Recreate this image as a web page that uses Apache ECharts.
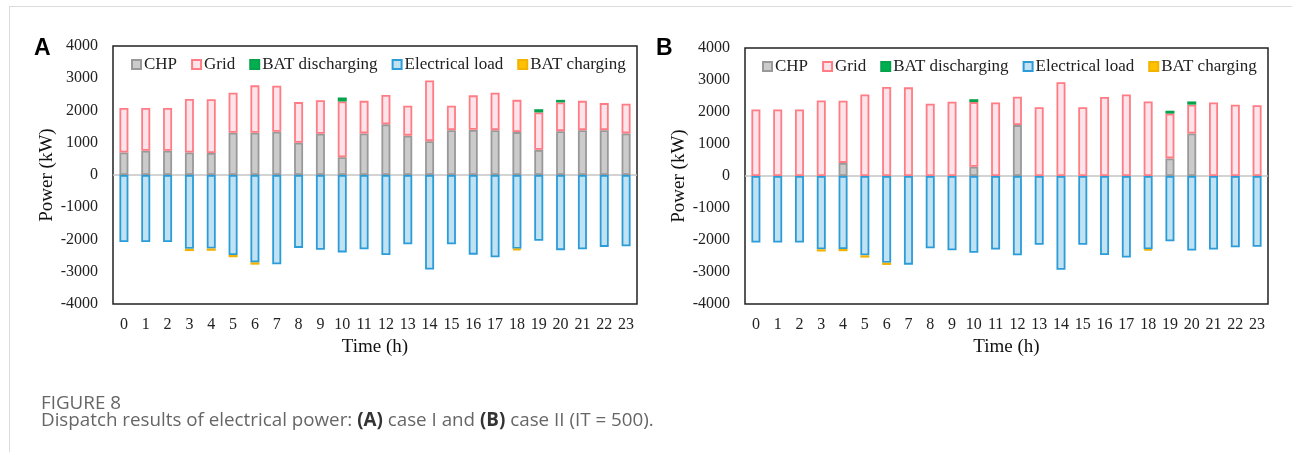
<!DOCTYPE html>
<html lang="en">
<head>
    <meta charset="UTF-8">
    <title>Figure 8</title>
    <script src="https://cdn.jsdelivr.net/npm/echarts@6/dist/echarts.min.js"></script>
    <style>
        body { margin: 0; background: #fff; }
        #wrap { position: relative; width: 1292px; height: 452px; overflow: hidden; }
        #card { position: absolute; left: 9px; top: 6px; width: 1300px; height: 460px;
                border-left: 1px solid #dcdcdc; border-top: 1px solid #dcdcdc; }
        #chart { position: absolute; left: 0; top: 0; width: 1292px; height: 452px; }
        .tag { position: absolute; font: bold 23px "Liberation Sans", Arial, sans-serif; color: #000; }
        .cap { position: absolute; left: 41px; font: 400 18.8px/20px "Open Sans", sans-serif; color: #666; white-space: nowrap; }
        .cap b { color: #333; font-weight: 700; }
    </style>
    <script>
        // hours 0..23
        var hours = ['0', '1', '2', '3', '4', '5', '6', '7', '8', '9', '10', '11',
                     '12', '13', '14', '15', '16', '17', '18', '19', '20', '21', '22', '23'];

        // case I (A)
        var chpA  = [700, 750, 750, 700, 680, 1310, 1310, 1340, 1000, 1280, 550, 1290,
                     1570, 1220, 1050, 1390, 1400, 1390, 1330, 780, 1360, 1390, 1390, 1290];
        var gridA = [1380, 1330, 1330, 1660, 1670, 1240, 1470, 1430, 1260, 1040, 1730, 1010,
                     910, 930, 1880, 760, 1070, 1160, 1000, 1160, 890, 910, 840, 920];
        var disA  = [0, 0, 0, 0, 0, 0, 0, 0, 0, 0, 120, 0,
                     0, 0, 0, 0, 0, 0, 0, 100, 80, 0, 0, 0];
        var chgA  = [0, 0, 0, -70, -70, -70, -70, 0, 0, 0, 0, 0,
                     0, 0, 0, 0, 0, 0, -40, 0, 0, 0, 0, 0];

        // case II (B)
        var chpB  = [0, 0, 0, 0, 410, 0, 0, 0, 0, 0, 290, 0,
                     1590, 0, 0, 0, 0, 0, 0, 550, 1330, 0, 0, 0];
        var gridB = [2080, 2080, 2080, 2360, 1940, 2550, 2780, 2770, 2260, 2320, 2020, 2300,
                     890, 2150, 2930, 2150, 2470, 2550, 2330, 1400, 900, 2300, 2230, 2210];
        var disB  = [0, 0, 0, 0, 0, 0, 0, 0, 0, 0, 90, 0,
                     0, 0, 0, 0, 0, 0, 0, 90, 100, 0, 0, 0];
        var chgB  = [0, 0, 0, -70, -70, -70, -70, 0, 0, 0, 0, 0,
                     0, 0, 0, 0, 0, 0, -40, 0, 0, 0, 0, 0];

        // electrical load, same in both cases
        var load  = [-2080, -2080, -2080, -2290, -2280, -2480, -2710, -2770, -2260, -2320, -2400, -2300,
                     -2480, -2150, -2930, -2150, -2470, -2550, -2290, -2040, -2330, -2300, -2230, -2210];

        var serif = '"Liberation Serif", "Times New Roman", serif';

        var styles = {
            'CHP':            { color: '#cbcbcb', borderColor: '#999999' },
            'Grid':           { color: '#fde4ea', borderColor: '#ff7c84' },
            'BAT discharging':{ color: '#00b050', borderColor: '#06a34c' },
            'Electrical load':{ color: '#c0e2f2', borderColor: '#2b9cd8' },
            'BAT charging':   { color: '#ffc000', borderColor: '#f2b200' }
        };
        var names = ['CHP', 'Grid', 'BAT discharging', 'Electrical load', 'BAT charging'];

        function clean(arr) {
            return arr.map(function (v) { return v === 0 ? '-' : v; });
        }

        function makeSeries(idx, lists) {
            return names.map(function (n, i) {
                var s = {
                    name: n,
                    type: 'bar',
                    stack: 'p' + idx,
                    xAxisIndex: idx,
                    yAxisIndex: idx,
                    barWidth: 9,
                    data: clean(lists[i]),
                    itemStyle: {
                        color: styles[n].color,
                        borderColor: styles[n].borderColor,
                        borderWidth: 1.8
                    },
                    z: 3
                };
                if (i === 0) {
                    s.markLine = {
                        silent: true,
                        symbol: 'none',
                        label: { show: false },
                        lineStyle: { color: '#c4c4c4', width: 1.5, type: 'solid' },
                        data: [{ yAxis: 0 }],
                        z: 1
                    };
                }
                return s;
            });
        }

        function xAxis(idx) {
            return {
                type: 'category',
                gridIndex: idx,
                data: hours,
                name: 'Time (h)',
                nameLocation: 'middle',
                nameGap: 31,
                nameTextStyle: { fontFamily: serif, fontSize: 19, color: '#111' },
                axisLine: { show: false },
                axisTick: { show: false },
                axisLabel: { fontFamily: serif, fontSize: 16, color: '#222', margin: 13, interval: 0 }
            };
        }

        function yAxis(idx) {
            return {
                type: 'value',
                gridIndex: idx,
                min: -4000,
                max: 4000,
                interval: 1000,
                name: 'Power (kW)',
                nameLocation: 'middle',
                nameGap: 49,
                nameTextStyle: { fontFamily: serif, fontSize: 19, color: '#111' },
                axisLine: { show: false },
                axisTick: { show: false },
                splitLine: { show: false },
                axisLabel: {
                    fontFamily: serif, fontSize: 16, color: '#222', margin: 15,
                    formatter: function (v) { return String(v); }
                }
            };
        }

        function legend(left, top) {
            return {
                left: left,
                top: top,
                itemWidth: 9,
                itemHeight: 9,
                itemGap: 14,
                icon: 'rect',
                data: names,
                textStyle: { fontFamily: serif, fontSize: 17, color: '#222', padding: [0, 0, 0, -2] }
            };
        }

        window.onload = function () {
            var chart = echarts.init(document.getElementById('chart'));
            chart.setOption({
                animation: false,
                grid: [
                    { left: 113, top: 46, width: 524, height: 258, show: true, borderColor: '#222', borderWidth: 1.5, backgroundColor: 'transparent' },
                    { left: 745, top: 48, width: 523, height: 256, show: true, borderColor: '#222', borderWidth: 1.5, backgroundColor: 'transparent' }
                ],
                legend: [legend(126, 51), legend(757, 53)],
                xAxis: [xAxis(0), xAxis(1)],
                yAxis: [yAxis(0), yAxis(1)],
                series: makeSeries(0, [chpA, gridA, disA, load, chgA])
                    .concat(makeSeries(1, [chpB, gridB, disB, load, chgB]))
            });
        };
    </script>
</head>
<body>
<div id="wrap">
    <div id="card"></div>
    <div id="chart"></div>
    <div class="tag" style="left:34px; top:34px;">A</div>
    <div class="tag" style="left:656px; top:34px;">B</div>
    <div class="cap" style="top:392px;">FIGURE 8</div>
    <div class="cap" style="top:409px;">Dispatch results of electrical power: <b>(A)</b> case I and <b>(B)</b> case II (IT = 500).</div>
</div>
</body>
</html>
